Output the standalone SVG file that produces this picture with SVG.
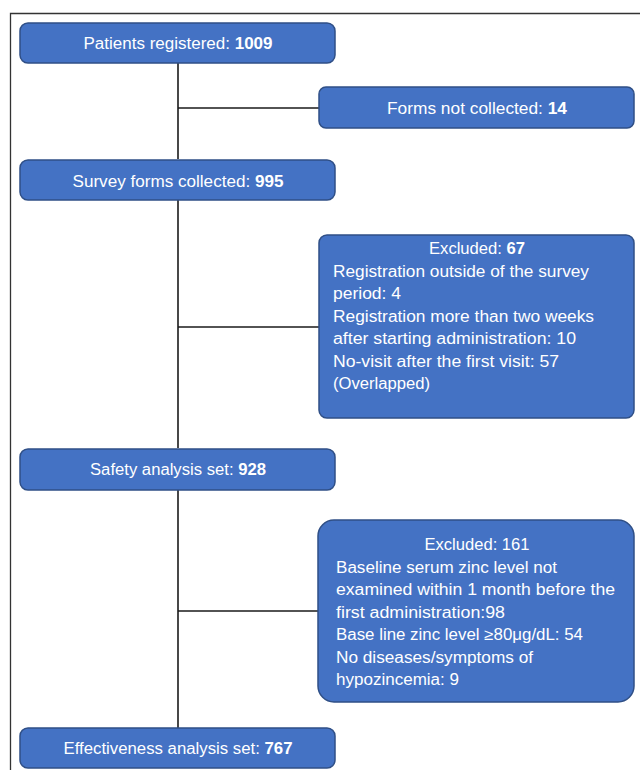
<svg xmlns="http://www.w3.org/2000/svg" width="640" height="770" viewBox="0 0 640 770">
<style>
.box{fill:#4472C4;stroke:#2F4F86;stroke-width:1.5}
.t{font-family:"Liberation Sans",Arial,sans-serif;font-size:16px;fill:#FFFFFF}
.c{text-anchor:middle}
.b{font-weight:bold}
.ln{stroke:#1a1a1a;stroke-width:1.6;fill:none}
.frame{stroke:#333333;stroke-width:1.3;fill:none}
</style>
<rect width="640" height="770" fill="#FFFFFF"/>
<path class="frame" d="M10.5,770 V13.5 H640"/>
<g id="connectors">
<path class="ln" d="M178,63 V159"/>
<path class="ln" d="M178,108 H319"/>
<path class="ln" d="M178,200 V448"/>
<path class="ln" d="M178,327 H319"/>
<path class="ln" d="M178,490 V728"/>
<path class="ln" d="M178,611 H318"/>
</g>
<g id="patients">
<rect class="box" x="20" y="23" width="315" height="40" rx="8"/>
<text class="t c" x="178" y="49" textLength="189" lengthAdjust="spacingAndGlyphs">Patients registered: <tspan class="b">1009</tspan></text>
</g>
<g id="notcollected">
<rect class="box" x="319" y="87" width="315" height="41" rx="7"/>
<text class="t c" x="477" y="114" textLength="180" lengthAdjust="spacingAndGlyphs">Forms not collected: <tspan class="b">14</tspan></text>
</g>
<g id="survey">
<rect class="box" x="20" y="160" width="315" height="40" rx="8"/>
<text class="t c" x="178" y="186.5" textLength="211" lengthAdjust="spacingAndGlyphs">Survey forms collected: <tspan class="b">995</tspan></text>
</g>
<g id="excluded67">
<rect class="box" x="319" y="235" width="315" height="183" rx="8"/>
<text class="t c" x="477" y="254" textLength="96" lengthAdjust="spacingAndGlyphs">Excluded: <tspan class="b">67</tspan></text>
<text class="t" x="333" y="276.5" textLength="256" lengthAdjust="spacingAndGlyphs">Registration outside of the survey</text>
<text class="t" x="333" y="299" textLength="68" lengthAdjust="spacingAndGlyphs">period: 4</text>
<text class="t" x="333" y="321.5" textLength="261" lengthAdjust="spacingAndGlyphs">Registration more than two weeks</text>
<text class="t" x="333" y="344" textLength="243" lengthAdjust="spacingAndGlyphs">after starting administration: 10</text>
<text class="t" x="333" y="366.5" textLength="226" lengthAdjust="spacingAndGlyphs">No-visit after the first visit: 57</text>
<text class="t" x="333" y="389" textLength="97" lengthAdjust="spacingAndGlyphs">(Overlapped)</text>
</g>
<g id="safety">
<rect class="box" x="20" y="449" width="315" height="41" rx="8"/>
<text class="t c" x="178" y="475" textLength="176" lengthAdjust="spacingAndGlyphs">Safety analysis set: <tspan class="b">928</tspan></text>
</g>
<g id="excluded161">
<rect class="box" x="318" y="520" width="316" height="182" rx="16"/>
<text class="t c" x="477" y="550" textLength="105" lengthAdjust="spacingAndGlyphs">Excluded: 161</text>
<text class="t" x="336" y="572.5" textLength="221" lengthAdjust="spacingAndGlyphs">Baseline serum zinc level not</text>
<text class="t" x="336" y="595" textLength="279" lengthAdjust="spacingAndGlyphs">examined within 1 month before the</text>
<text class="t" x="336" y="617.5" textLength="169" lengthAdjust="spacingAndGlyphs">first administration:98</text>
<text class="t" x="336" y="640" textLength="247" lengthAdjust="spacingAndGlyphs">Base line zinc level ≥80μg/dL: 54</text>
<text class="t" x="336" y="662.5" textLength="197" lengthAdjust="spacingAndGlyphs">No diseases/symptoms of</text>
<text class="t" x="336" y="685" textLength="123" lengthAdjust="spacingAndGlyphs">hypozincemia: 9</text>
</g>
<g id="effectiveness">
<rect class="box" x="20" y="728" width="315" height="40" rx="8"/>
<text class="t c" x="178" y="754" textLength="229" lengthAdjust="spacingAndGlyphs">Effectiveness analysis set: <tspan class="b">767</tspan></text>
</g>
</svg>
